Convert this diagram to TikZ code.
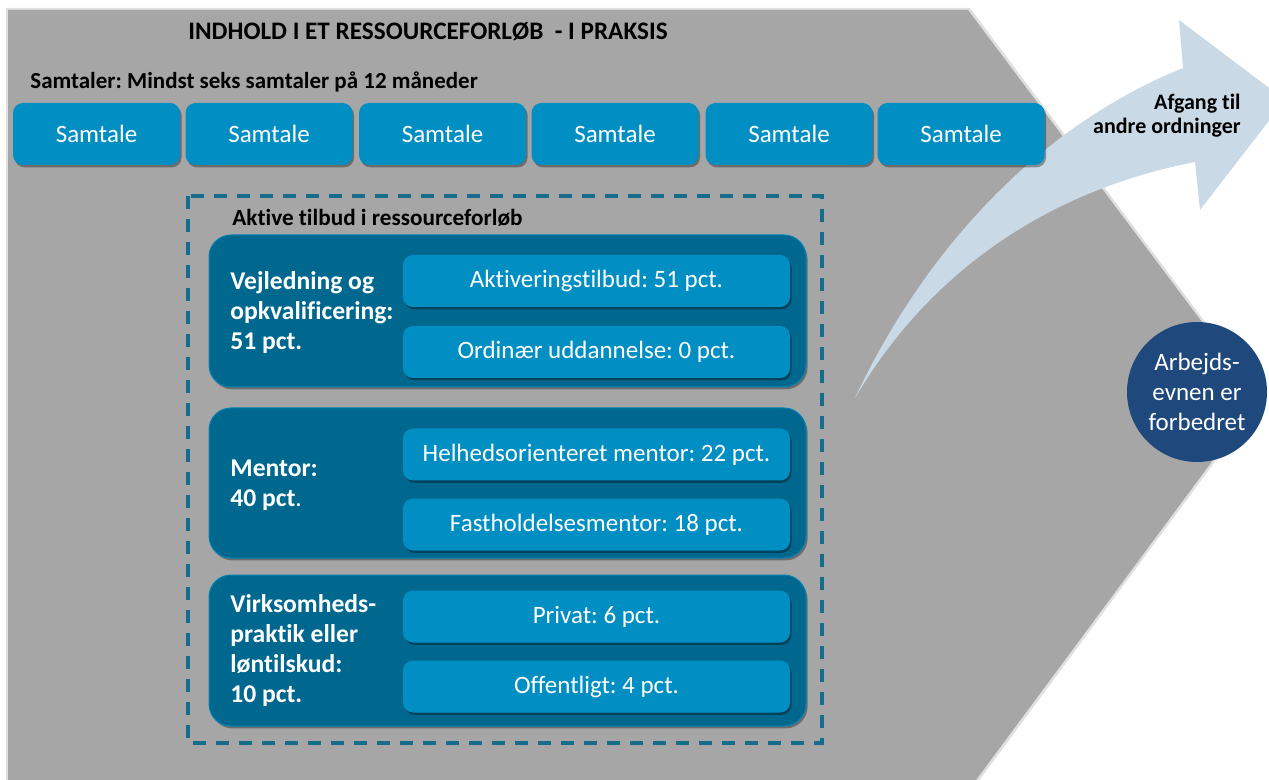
\documentclass[tikz,border=0pt]{standalone}
\usepackage{fontspec}
\setmainfont{Carlito}[Ligatures=NoCommon]
\frenchspacing
\usetikzlibrary{shadows}
\definecolor{bggray}{HTML}{A6A6A6}
\definecolor{boxblue}{HTML}{008EC3}
\definecolor{panelblue}{HTML}{00688E}
\definecolor{dashblue}{HTML}{176C8C}
\definecolor{circblue}{HTML}{1F497D}
\definecolor{arrowblue}{HTML}{C9DAE6}
\tikzset{
  shad/.style={drop shadow={shadow xshift=0.8pt, shadow yshift=-1.2pt, opacity=0.35, fill=black}},
  samtale/.style={shad, fill=boxblue, rounded corners=5pt, minimum width=83.5pt, minimum height=31pt,
    inner sep=0pt, text=white, font=\fontsize{12.5}{15}\selectfont},
  panel/.style={shad, fill=panelblue, draw=boxblue!70!panelblue, line width=0.5pt, rounded corners=11pt,
    minimum width=298.5pt, inner sep=0pt},
  inner/.style={shad, fill=boxblue, rounded corners=5pt, minimum width=193.5pt, minimum height=26pt,
    inner sep=0pt, text=white, font=\fontsize{12.5}{15}\selectfont},
  panlabel/.style={anchor=west, align=left, text=white, inner sep=0pt,
    font=\bfseries\fontsize{12.8}{15}\selectfont},
  heading/.style={inner sep=0pt, text=black, font=\bfseries\fontsize{10.5}{13}\selectfont}
}
\begin{document}
\begin{tikzpicture}[x=0.5pt,y=-0.5pt]
\useasboundingbox (0,0) rectangle (1269,780);
\clip (0,0) rectangle (1269,780);
\fill[white] (0,0) rectangle (1269,780);
% gray background arrow shape
\fill[black!12] (6,8) -- (970,8) -- (1262,398) -- (978,782) -- (6,782) -- cycle;
\fill[bggray] (8,10) -- (968,10) -- (1259,398) -- (976,780) -- (8,780) -- cycle;
% light blue curved arrow
\fill[arrowblue] (855,398) .. controls (920,260) and (1030,130) .. (1183,68)
  -- (1179,20) -- (1285,100) -- (1200,210) -- (1195,162)
  .. controls (1050,190) and (930,270) .. (855,398) -- cycle;
\node[heading, anchor=east, align=right, font=\bfseries\fontsize{11}{12}\selectfont] (afgang) at (1241,116) {Afgang til\\andre ordninger};
% titles
\node[heading, font=\bfseries\fontsize{12.6}{14}\selectfont] (title) at (428,32) {INDHOLD I ET RESSOURCEFORLØB\ \ - I PRAKSIS};
\node[heading, anchor=west, font=\bfseries\fontsize{11.5}{13}\selectfont] (samtaler) at (30,82) {Samtaler: Mindst seks samtaler på 12 måneder};
% samtale boxes
\node[samtale] (s1) at (96.5,134) {Samtale};
\node[samtale] (s2) at (269,134) {Samtale};
\node[samtale] (s3) at (442.5,134) {Samtale};
\node[samtale] (s4) at (615,134) {Samtale};
\node[samtale] (s5) at (789,134) {Samtale};
\node[samtale] (s6) at (961,134) {Samtale};
% dashed frame
\draw[dashblue, line width=1.7pt, dash pattern=on 6.5pt off 5pt] (188,196) rectangle (822,743);
\node[heading, anchor=west, font=\bfseries\fontsize{11.6}{13}\selectfont] (aktive) at (232,218) {Aktive tilbud i ressourceforløb};
% panels
\node[panel, minimum height=76pt] (p1) at (507.5,311) {};
\node[panel, minimum height=75pt] (p2) at (507.5,483) {};
\node[panel, minimum height=75.5pt] (p3) at (507.5,650.5) {};
\node[inner] (a1) at (596.5,281) {Aktiveringstilbud: 51 pct.};
\node[inner] (a2) at (596.5,352) {Ordinær uddannelse: 0 pct.};
\node[inner] (b1) at (596.5,454.5) {Helhedsorienteret mentor: 22 pct.};
\node[inner] (b2) at (596.5,524.5) {Fastholdelsesmentor: 18 pct.};
\node[inner] (c1) at (596.5,616.5) {Privat: 6 pct.};
\node[inner] (c2) at (596.5,686.5) {Offentligt: 4 pct.};
\node[panlabel] (l1) at (230,313) {Vejledning og\\opkvalificering:\\51 pct.};
\node[panlabel] (l2) at (230,485) {Mentor:\\40 pct\mdseries.};
\node[panlabel] (l3) at (230,651) {Virksomheds-\\praktik eller\\løntilskud:\\10 pct.};
% circle
\node[circle, fill=circblue, minimum size=70pt, inner sep=0pt, text=white, align=center,
  font=\fontsize{12.5}{15}\selectfont] (circ) at (1197,392) {Arbejds-\\evnen er\\forbedret};
\end{tikzpicture}
\end{document}
